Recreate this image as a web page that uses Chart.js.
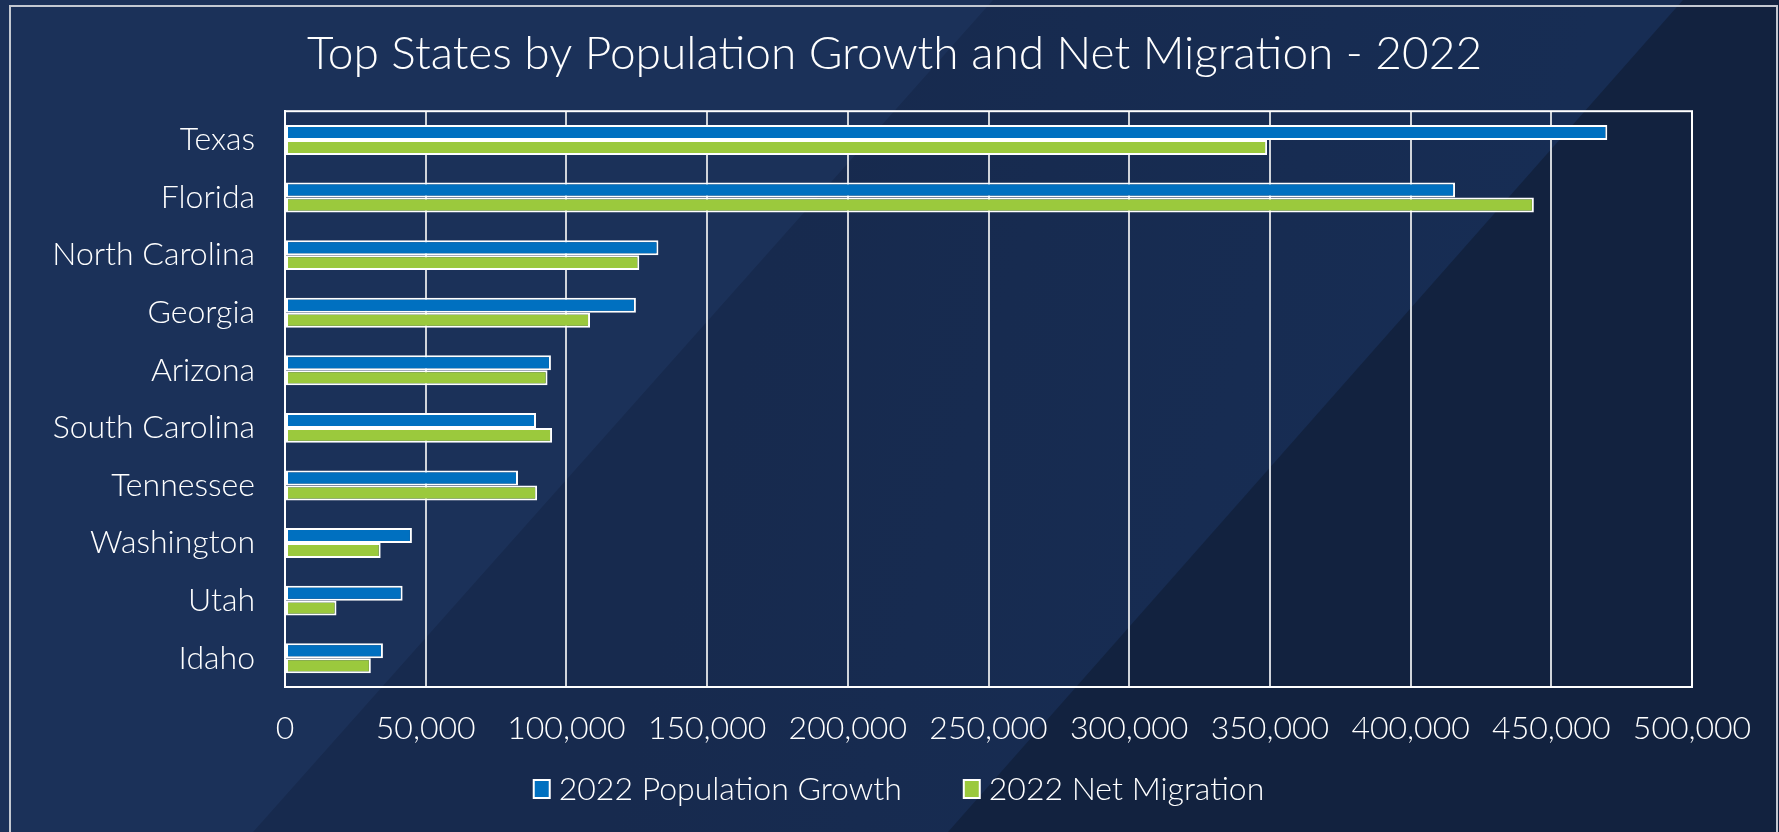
<!DOCTYPE html>
<html>
<head>
<meta charset="utf-8">
<title>Top States by Population Growth and Net Migration - 2022</title>
<script src="https://cdn.jsdelivr.net/npm/chart.js@4"></script>
<style>
  html, body { margin: 0; padding: 0; background: #1b3159; }
  #wrap { width: 1779px; height: 832px; }
</style>
</head>
<body>
<div id="wrap"><canvas id="myChart" width="1779" height="832"></canvas></div>
<script>
// states, top to bottom
const states = ['Texas', 'Florida', 'North Carolina', 'Georgia', 'Arizona',
  'South Carolina', 'Tennessee', 'Washington', 'Utah', 'Idaho'];

// 2022 numbers per state
const popGrowth = [469900, 415800, 132700, 124700, 94500, 89200, 82800, 45100, 41800, 34800];
const netMigration = [349000, 443800, 125900, 108400, 93300, 94900, 89600, 34000, 18300, 30500];

const seriesNames = ['2022 Population Growth', '2022 Net Migration'];
const seriesColors = ['#0070c0', '#9bc93d'];
const xTicks = [0, 50000, 100000, 150000, 200000, 250000, 300000, 350000, 400000, 450000, 500000];

const FONT = 'Lato, "Open Sans", sans-serif';

// slide-like background: three diagonal panels plus a thin frame
const backdrop = {
  id: 'backdrop',
  beforeDraw(chart) {
    const ctx = chart.ctx;
    const w = chart.width, h = chart.height;
    ctx.save();
    ctx.fillStyle = '#1b3159';
    ctx.fillRect(0, 0, w, h);

    // middle panel
    const g = ctx.createLinearGradient(700, 500, 1400, 700);
    g.addColorStop(0, '#172a4e');
    g.addColorStop(1, '#172d54');
    ctx.fillStyle = g;
    ctx.beginPath();
    ctx.moveTo(993, 0);
    ctx.lineTo(w, 0);
    ctx.lineTo(w, h);
    ctx.lineTo(253, h);
    ctx.closePath();
    ctx.fill();

    // right panel
    ctx.fillStyle = '#12223f';
    ctx.beginPath();
    ctx.moveTo(1683, 0);
    ctx.lineTo(w, 0);
    ctx.lineTo(w, h);
    ctx.lineTo(948, h);
    ctx.closePath();
    ctx.fill();

    // frame
    ctx.strokeStyle = '#c3c8d1';
    ctx.lineWidth = 2;
    ctx.beginPath();
    ctx.moveTo(10, h + 2);
    ctx.lineTo(10, 6);
    ctx.lineTo(1777, 6);
    ctx.lineTo(1777, h + 2);
    ctx.stroke();
    ctx.restore();
  },
  afterDatasetsDraw(chart) {
    // outline around the plot area
    const a = chart.chartArea;
    const ctx = chart.ctx;
    ctx.save();
    ctx.strokeStyle = '#ffffff';
    ctx.lineWidth = 2;
    ctx.strokeRect(a.left, a.top, a.right - a.left, a.bottom - a.top);
    ctx.restore();
  },
  afterDraw(chart) {
    // legend row under the axis, boxes with white edge
    const ctx = chart.ctx;
    ctx.save();
    ctx.font = '300 32px ' + FONT;
    ctx.textBaseline = 'middle';
    ctx.textAlign = 'left';
    const boxW = 16, boxH = 18, gapText = 9, gapItem = 62;
    const items = chart.data.datasets.map(ds => ({
      text: ds.label, color: ds.backgroundColor, tw: ctx.measureText(ds.label).width
    }));
    let total = 0;
    items.forEach((it, i) => { total += boxW + gapText + it.tw + (i ? gapItem : 0); });
    let x = 899 - total / 2;
    const cy = 789;
    items.forEach(it => {
      ctx.fillStyle = it.color;
      ctx.fillRect(x, cy - boxH / 2, boxW, boxH);
      ctx.strokeStyle = '#ffffff';
      ctx.lineWidth = 2;
      ctx.strokeRect(x, cy - boxH / 2, boxW, boxH);
      ctx.fillStyle = '#ffffff';
      ctx.fillText(it.text, x + boxW + gapText, cy + 1);
      x += boxW + gapText + it.tw + gapItem;
    });
    ctx.restore();
  }
};

const myChart = document.getElementById('myChart');
const barChart = new Chart(myChart, {
  type: 'bar',
  data: {
    labels: states,
    datasets: [{
      label: seriesNames[0],
      data: popGrowth,
      backgroundColor: seriesColors[0],
      borderColor: '#ffffff',
      borderWidth: 2,
      borderSkipped: false
    }, {
      label: seriesNames[1],
      data: netMigration,
      backgroundColor: seriesColors[1],
      borderColor: '#ffffff',
      borderWidth: 2,
      borderSkipped: false
    }]
  },
  options: {
    indexAxis: 'y',
    responsive: false,
    animation: false,
    devicePixelRatio: 1,
    layout: { padding: { left: 10, right: 0, top: 0, bottom: 0 } },
    datasets: { bar: { barPercentage: 1, categoryPercentage: 0.52 } },
    plugins: {
      title: {
        display: true,
        text: 'Top States by Population Growth and Net Migration - 2022',
        color: '#ffffff',
        font: { family: FONT, size: 46, weight: '300' },
        padding: { top: 27, bottom: 29 }
      },
      legend: { display: false },
      tooltip: { enabled: false }
    },
    scales: {
      x: {
        min: 0,
        max: 500000,
        afterBuildTicks: scale => { scale.ticks = xTicks.map(v => ({ value: v })); },
        afterFit: scale => { scale.height = 145; },
        grid: { color: '#d0d4da', lineWidth: 2, drawTicks: false },
        border: { display: true, color: '#ffffff', width: 2 },
        ticks: {
          color: '#ffffff',
          padding: 22,
          maxRotation: 0,
          autoSkip: false,
          font: { family: FONT, size: 32, weight: '300' },
          callback: v => v.toLocaleString('en-US')
        }
      },
      y: {
        afterFit: scale => { scale.width = 275; },
        grid: { display: false, drawTicks: false },
        border: { display: true, color: '#ffffff', width: 2 },
        ticks: {
          color: '#ffffff',
          padding: 30,
          font: { family: FONT, size: 32, weight: '300' }
        }
      },
      // empty strip on the right side of the plot
      yRight: {
        type: 'category',
        position: 'right',
        grid: { display: false, drawTicks: false },
        border: { display: false },
        ticks: { display: false },
        afterFit: scale => { scale.width = 87; }
      }
    }
  },
  plugins: [backdrop]
});
</script>
</body>
</html>
